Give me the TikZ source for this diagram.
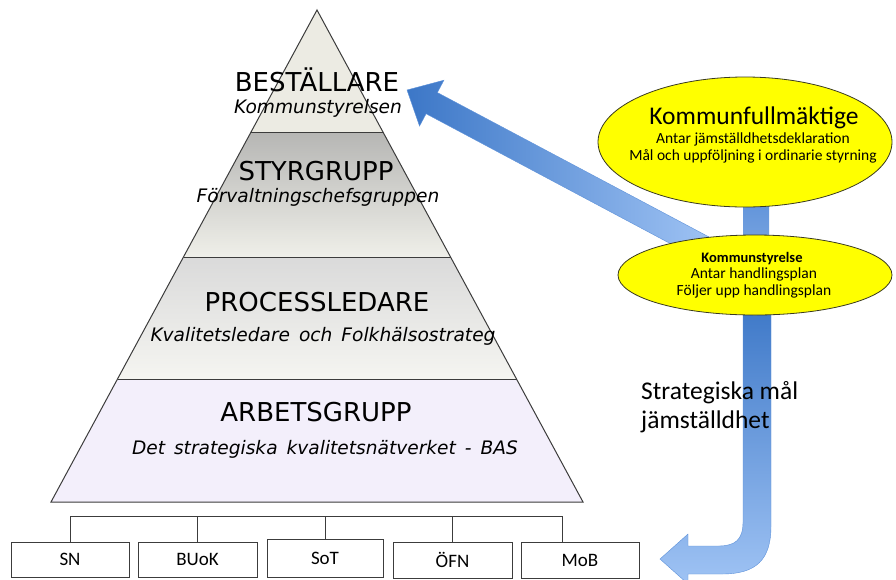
\documentclass[tikz,border=0pt]{standalone}
\usepackage{fontspec}
\setmainfont{Carlito}
\newfontfamily\dvs{DejaVu Sans}
\usetikzlibrary{shapes.geometric}
\definecolor{lineg}{HTML}{3C3C3C}
\definecolor{bandA}{HTML}{ECEBE3}
\definecolor{bandBt}{HTML}{B6B6B4}
\definecolor{bandBb}{HTML}{EFEFE9}
\definecolor{bandCt}{HTML}{DADADA}
\definecolor{bandCb}{HTML}{F5F5F1}
\definecolor{bandD}{HTML}{F3EFFB}
\definecolor{blueD}{HTML}{3C77C7}
\definecolor{blueL}{HTML}{9FC3F4}
\definecolor{blueM}{HTML}{5E92DA}
\definecolor{ellfill}{HTML}{FFFF00}
\definecolor{elldraw}{HTML}{3A3A20}
\tikzset{
  pyrtitle/.style={font=\dvs\fontsize{26}{30}\selectfont, anchor=base, inner sep=0},
  pyrsub/.style={font=\dvs\itshape\fontsize{18.6}{22}\selectfont, anchor=base, inner sep=0},
  ellbox/.style={ellipse, draw=elldraw, line width=0.8pt, fill=ellfill, inner sep=0},
  elltext/.style={anchor=base, inner sep=0},
  unitbox/.style={draw=lineg, line width=0.9pt, fill=white, inner sep=0, font=\fontsize{19}{22}\selectfont},
  orgline/.style={draw=lineg, line width=1pt},
}
\begin{document}
\begin{tikzpicture}[x=1pt,y=-1pt]
\clip (0,0) rectangle (896,579);
\fill[white] (0,0) rectangle (896,579);

% pyramid bands
\fill[bandA] (317,10) -- (383,132) -- (251,132) -- cycle;
\shade[top color=bandBt, bottom color=bandBb] (251,132) -- (383,132) -- (450.5,257) -- (183.5,257) -- cycle;
\shade[top color=bandCt, bottom color=bandCb] (183.5,257) -- (450.5,257) -- (516.5,379) -- (117.5,379) -- cycle;
\fill[bandD] (117.5,379) -- (516.5,379) -- (583,502) -- (51,502) -- cycle;
\draw[lineg, line width=1pt, line join=miter] (317,10) -- (583,502) -- (51,502) -- cycle;
\draw[lineg, line width=1pt] (251,132) -- (383,132);
\draw[lineg, line width=1pt] (183.5,257) -- (450.5,257);
\draw[lineg, line width=1pt] (117.5,379) -- (516.5,379);

% pyramid texts
\node[pyrtitle] (best) at (317,91) {BESTÄLLARE};
\node[pyrsub] (bestsub) at (318,113) {Kommunstyrelsen};
\node[pyrtitle] (styr) at (316,180) {STYRGRUPP};
\node[pyrsub] (styrsub) at (318,202) {Förvaltningschefsgruppen};
\node[pyrtitle] (proc) at (317,311) {PROCESSLEDARE};
\node[pyrsub] (procsub) at (323,341) {\spaceskip=9pt\relax Kvalitetsledare och Folkhälsostrateg};
\node[pyrtitle] (arb) at (316,421) {ARBETSGRUPP};
\node[pyrsub] (arbsub) at (325,454) {\spaceskip=9pt\relax Det strategiska kvalitetsnätverket - BAS};

% diagonal arrow to BESTÄLLARE
\begin{scope}[shift={(407,90)}, rotate=-28]
\shade[left color=blueD, right color=blueL, draw=blueM, line width=0.4pt]
  (0,0) -- (28,-26) -- (28,-12) -- (340,-12) -- (340,12) -- (28,12) -- (28,26) -- cycle;
\end{scope}

% bar between ellipses
\shade[top color=blueM, bottom color=blueM!85!white] (743,195) rectangle (769,245);

% curved arrow down to the units
\shade[top color=blueD, bottom color=blueL, draw=blueM, line width=0.4pt]
  (743,300) -- (743,522) .. controls (743,540) and (735,546) .. (718,546)
  -- (688,546) -- (688,534) -- (660,559) -- (688,584) -- (688,574) -- (722,574)
  .. controls (756,574) and (771,560) .. (771,526) -- (771,300) -- cycle;

% ellipses
\node[ellbox, minimum width=294pt, minimum height=130pt] (kf) at (745,142) {};
\node[elltext, font=\fontsize{25.5}{28}\selectfont] (kft) at (754,124) {Kommunfullmäktige};
\node[elltext, font=\fontsize{15.5}{17}\selectfont] (kf1) at (753,143) {Antar jämställdhetsdeklaration};
\node[elltext, font=\fontsize{15.5}{17}\selectfont] (kf2) at (753,160) {Mål och uppföljning i ordinarie styrning};

\node[ellbox, minimum width=274pt, minimum height=80pt] (ks) at (755,275) {};
\node[elltext, font=\bfseries\fontsize{14.5}{17}\selectfont] (kst) at (752,262) {Kommunstyrelse};
\node[elltext, font=\fontsize{15.5}{17}\selectfont] (ks1) at (754,278) {Antar handlingsplan};
\node[elltext, font=\fontsize{15.5}{17}\selectfont] (ks2) at (754,295) {Följer upp handlingsplan};

% label on the bar
\node[anchor=base west, inner sep=0, font=\fontsize{25.5}{29}\selectfont] (sm1) at (641,399) {Strategiska mål};
\node[anchor=base west, inner sep=0, font=\fontsize{25.5}{29}\selectfont] (sm2) at (641,428) {jämställdhet};

% unit boxes
\node[unitbox, minimum width=118pt, minimum height=35pt] (sn) at (70,559.5) {SN};
\node[unitbox, minimum width=119pt, minimum height=35pt] (buok) at (197.5,559.5) {BUoK};
\node[unitbox, minimum width=116pt, minimum height=38pt] (sot) at (325,558) {SoT};
\node[unitbox, minimum width=119pt, minimum height=36pt] (ofn) at (452.5,560) {ÖFN};
\node[unitbox, minimum width=118pt, minimum height=36pt] (mob) at (580,560) {MoB};

\coordinate (busL) at (71,516);
\coordinate (busR) at (562,516);
\draw[orgline] (sn.north) -- (sn.north |- busL) -- (busR) -- ([xshift=-18pt]mob.north);
\draw[orgline] (buok.north) -- (buok.north |- busL);
\draw[orgline] (sot.north) -- (sot.north |- busL);
\draw[orgline] (ofn.north) -- (ofn.north |- busL);
\end{tikzpicture}
\end{document}
